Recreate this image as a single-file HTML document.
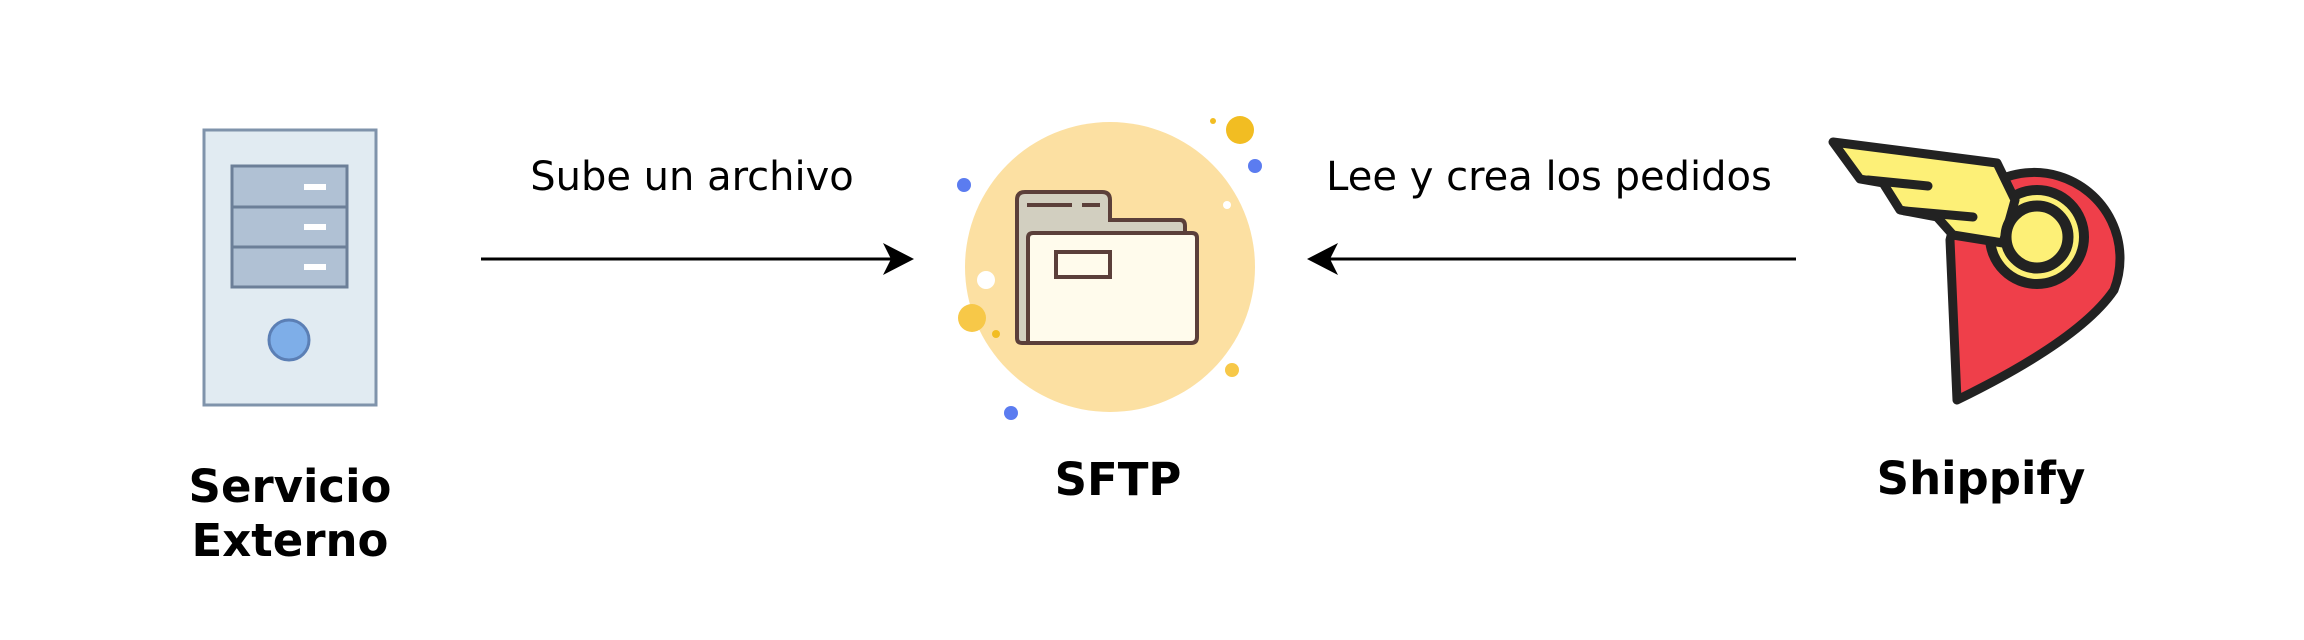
<!DOCTYPE html>
<html><head><meta charset="utf-8"><style>
html,body{margin:0;padding:0;background:#fff;}
svg{display:block;}
</style></head><body>
<svg width="2304" height="640" viewBox="0 0 2304 640" xmlns="http://www.w3.org/2000/svg">
<rect width="2304" height="640" fill="#fff"/>
<!-- Server -->
<rect x="204" y="130" width="172" height="275" fill="#e1ebf2" stroke="#7f93ab" stroke-width="3"/>
<rect x="232" y="166" width="115" height="121" fill="#b0c1d4" stroke="#6c7f98" stroke-width="3"/>
<line x1="232" y1="207" x2="347" y2="207" stroke="#6c7f98" stroke-width="3"/>
<line x1="232" y1="247" x2="347" y2="247" stroke="#6c7f98" stroke-width="3"/>
<rect x="304" y="184" width="22" height="6" fill="#fff"/>
<rect x="304" y="224" width="22" height="6" fill="#fff"/>
<rect x="304" y="264" width="22" height="6" fill="#fff"/>
<circle cx="289" cy="340" r="20" fill="#7eaee8" stroke="#5b7fb5" stroke-width="3"/>
<text x="290" y="502" text-anchor="middle" font-family="DejaVu Sans, sans-serif" font-weight="bold" font-size="45">Servicio</text>
<text x="290" y="556" text-anchor="middle" font-family="DejaVu Sans, sans-serif" font-weight="bold" font-size="45">Externo</text>

<!-- Arrow 1 -->
<line x1="481" y1="259" x2="895" y2="259" stroke="#000" stroke-width="3"/>
<path d="M914,259 L883,243 L891,259 L883,275 Z" fill="#000"/>
<text x="692" y="190" text-anchor="middle" font-family="DejaVu Sans, sans-serif" font-size="40">Sube un archivo</text>

<!-- SFTP -->
<ellipse cx="1110" cy="267" rx="145" ry="145" fill="#fce0a2"/>
<circle cx="1240" cy="130" r="14" fill="#f2bd22"/>
<circle cx="1213" cy="121" r="3" fill="#f2bd22"/>
<circle cx="1255" cy="166" r="7" fill="#5b7cf0"/>
<circle cx="964" cy="185" r="7" fill="#5b7cf0"/>
<circle cx="1227" cy="205" r="4" fill="#fff"/>
<circle cx="986" cy="280" r="9" fill="#fff"/>
<circle cx="972" cy="318" r="14" fill="#f7c848"/>
<circle cx="996" cy="334" r="4" fill="#f2bd22"/>
<circle cx="1232" cy="370" r="7" fill="#f7c848"/>
<circle cx="1011" cy="413" r="7" fill="#5b7cf0"/>
<path d="M1017,200 Q1017,192 1025,192 L1102,192 Q1110,192 1110,200 L1110,220 L1180,220 Q1185,220 1185,226 L1185,338 Q1185,343 1180,343 L1022,343 Q1017,343 1017,338 Z" fill="#d2cfc0" stroke="#5b3f3a" stroke-width="4"/>
<line x1="1027" y1="205" x2="1072" y2="205" stroke="#5b3f3a" stroke-width="4"/>
<line x1="1082" y1="205" x2="1100" y2="205" stroke="#5b3f3a" stroke-width="4"/>
<path d="M1028,238 Q1028,233 1033,233 L1192,233 Q1197,233 1197,238 L1197,337 Q1197,343 1191,343 L1028,343 Z" fill="#fffbec" stroke="#5b3f3a" stroke-width="4"/>
<rect x="1056" y="252" width="54" height="25" fill="#fffbec" stroke="#5b3f3a" stroke-width="4"/>
<text x="1118" y="495" text-anchor="middle" font-family="DejaVu Sans, sans-serif" font-weight="bold" font-size="45">SFTP</text>

<!-- Arrow 2 -->
<line x1="1326" y1="259" x2="1796" y2="259" stroke="#000" stroke-width="3"/>
<path d="M1307,259 L1338,243 L1330,259 L1338,275 Z" fill="#000"/>
<text x="1549" y="190" text-anchor="middle" font-family="DejaVu Sans, sans-serif" font-size="40">Lee y crea los pedidos</text>

<!-- Shippify logo -->
<path d="M1950,240 A86 86 0 1 1 2114,290 Q2080,340 1957,400 Z" fill="#ef3f4a" stroke="#222" stroke-width="9" stroke-linejoin="round"/>
<circle cx="2037" cy="237" r="47" fill="#fdf077" stroke="#222" stroke-width="10"/>
<path d="M1833,142 L1997,163 L2015,200 L2003,243 L1953,235 L1937,217 L1900,210 L1883,183 L1860,179 Z" fill="#fdf077" stroke="#222" stroke-width="9" stroke-linejoin="round"/>
<line x1="1868" y1="180" x2="1928" y2="186" stroke="#222" stroke-width="9" stroke-linecap="round"/>
<line x1="1905" y1="211" x2="1973" y2="217" stroke="#222" stroke-width="9" stroke-linecap="round"/>
<circle cx="2037" cy="237" r="31" fill="#fdf077" stroke="#222" stroke-width="11"/>
<text x="1981" y="494" text-anchor="middle" font-family="DejaVu Sans, sans-serif" font-weight="bold" font-size="45">Shippify</text>
</svg>
</body></html>
